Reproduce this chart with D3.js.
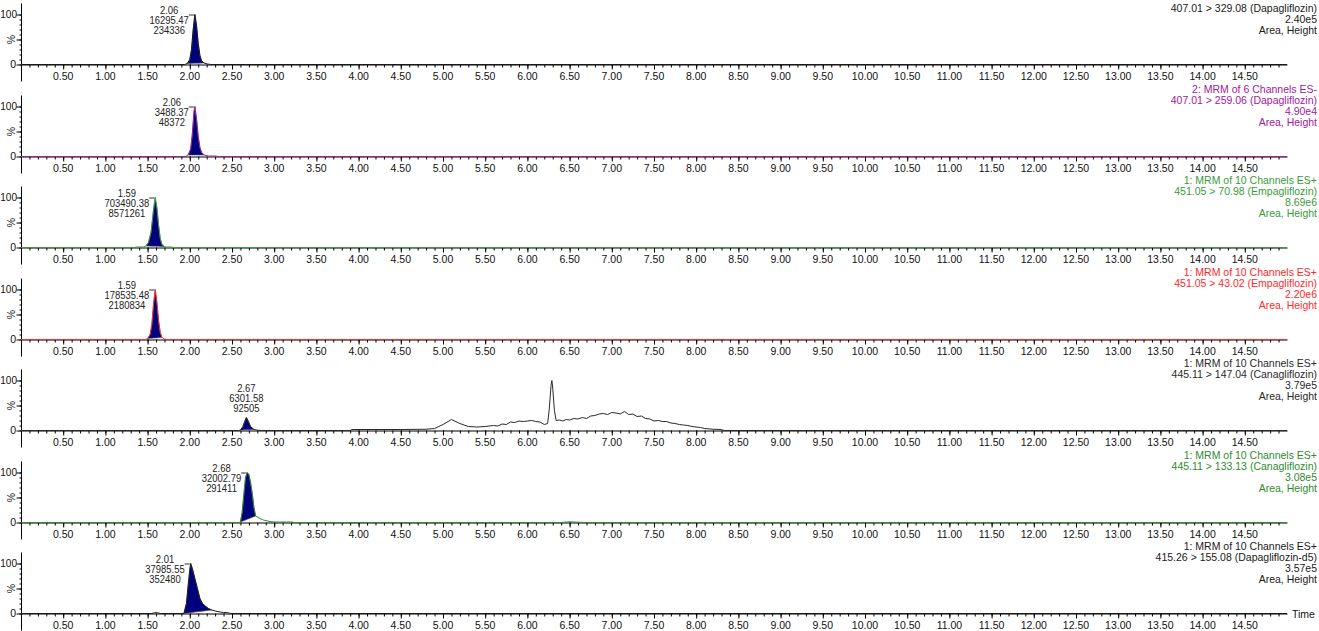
<!DOCTYPE html>
<html><head><meta charset="utf-8">
<script src="https://cdn.jsdelivr.net/npm/d3@7"></script>
<style>
body{margin:0;background:#fff;overflow:hidden}
text{font-family:"Liberation Sans",Arial,sans-serif;}
</style>
</head><body>
<svg id="c" width="1319" height="631"></svg>
<script>
// ---------- DATA ----------
const xTickValues = [0.5,1,1.5,2,2.5,3,3.5,4,4.5,5,5.5,6,6.5,7,7.5,8,8.5,9,9.5,10,10.5,11,11.5,12,12.5,13,13.5,14,14.5];
const xTickLabels = ["0.50","1.00","1.50","2.00","2.50","3.00","3.50","4.00","4.50","5.00","5.50","6.00","6.50","7.00","7.50","8.00","8.50","9.00","9.50","10.00","10.50","11.00","11.50","12.00","12.50","13.00","13.50","14.00","14.50"];
const yTickLabels = ["0","%","100"];

const functionLines = ["","2: MRM of 6 Channels ES-","1: MRM of 10 Channels ES+","1: MRM of 10 Channels ES+","1: MRM of 10 Channels ES+","1: MRM of 10 Channels ES+","1: MRM of 10 Channels ES+"];
const transitions = ["407.01 > 329.08 (Dapagliflozin)","407.01 > 259.06 (Dapagliflozin)","451.05 > 70.98 (Empagliflozin)","451.05 > 43.02 (Empagliflozin)","445.11 > 147.04 (Canagliflozin)","445.11 > 133.13 (Canagliflozin)","415.26 > 155.08 (Dapagliflozin-d5)"];
const fullScale = ["2.40e5","4.90e4","8.69e6","2.20e6","3.79e5","3.08e5","3.57e5"];
const labelMode = "Area, Height";
const traceColors = ["#1a1a1a","#a0209a","#3a9a3a","#ff2a2a","#2a2a2a","#2e8b2e","#1a1a1a"];

const peakRT = ["2.06","2.06","1.59","1.59","2.67","2.68","2.01"];
const peakArea = ["16295.47","3488.37","703490.38","178535.48","6301.58","32002.79","37985.55"];
const peakHeight = ["234336","48372","8571261","2180834","92505","291411","352480"];
const peakTime = [2.06,2.06,1.59,1.59,2.67,2.68,2.01];
const fillStart = [1.97,1.98,1.48,1.50,2.60,2.60,1.93];
const fillEnd = [2.17,2.17,1.70,1.67,2.76,2.78,2.26];

const trace1 = [[0,0],[1.94,0],[1.97,2],[2.00,10],[2.02,30],[2.04,70],[2.06,100],[2.08,78],[2.10,42],[2.12,18],[2.14,7],[2.17,3],[2.21,1],[2.25,0],[15,0]];
const trace2 = [[0,0],[1.95,0],[1.98,3],[2.01,15],[2.03,45],[2.05,90],[2.06,100],[2.08,75],[2.10,40],[2.12,18],[2.14,8],[2.17,3],[2.22,1],[2.30,1],[2.34,0],[15,0]];
const trace3 = [[0,0],[1.35,0],[1.36,1],[1.45,1],[1.48,3],[1.51,10],[1.54,30],[1.57,75],[1.59,100],[1.61,80],[1.63,45],[1.65,18],[1.67,6],[1.70,2],[1.72,1],[1.79,1],[1.80,0],[15,0]];
const trace4 = [[0,0],[1.47,0],[1.50,2],[1.53,10],[1.55,30],[1.57,70],[1.59,100],[1.61,75],[1.63,38],[1.65,14],[1.67,4],[1.70,1],[1.73,0],[15,0]];
const trace5 = [[0,0],[2.58,0],[2.60,1],[2.63,8],[2.65,18],[2.67,26],[2.69,20],[2.72,8],[2.76,2],[2.81,0.5],[2.85,0],[3.90,0],[3.92,2],[4.5,2],[4.8,2.5],[4.9,4],[5.0,12],[5.1,22],[5.2,14],[5.3,8],[5.4,7],[5.5,8],[5.6,10],[5.65,9],[5.7,13],[5.75,12],[5.8,17],[5.85,16],[5.9,19],[5.95,18],[6.0,19],[6.05,20],[6.1,18],[6.15,17],[6.2,12],[6.24,14],[6.26,45],[6.28,90],[6.29,100],[6.30,85],[6.32,40],[6.34,20],[6.38,21],[6.42,19],[6.46,22],[6.5,21],[6.55,24],[6.6,23],[6.65,26],[6.7,24],[6.75,29],[6.8,30],[6.85,33],[6.9,34],[6.95,32],[7.0,36],[7.05,35],[7.1,33],[7.15,38],[7.2,32],[7.25,33],[7.3,28],[7.35,29],[7.4,24],[7.45,23],[7.5,19],[7.55,20],[7.6,18],[7.65,18],[7.7,15],[7.75,14],[7.8,12],[7.85,11],[7.9,10],[7.95,8],[8.0,7],[8.05,6],[8.1,4],[8.2,2.5],[8.3,2],[8.33,0],[15,0]];
const trace6 = [[0,0],[2.58,0],[2.60,1],[2.62,20],[2.64,55],[2.66,90],[2.68,100],[2.70,96],[2.72,80],[2.74,58],[2.76,30],[2.78,13],[2.82,9],[2.87,5],[2.95,2],[3.0,1],[3.2,1],[3.25,0],[6.4,0],[6.5,1.5],[6.6,0.5],[6.7,0],[15,0]];
const trace7 = [[0,0],[1.55,0],[1.58,1.5],[1.62,1.5],[1.65,0],[1.93,0],[1.96,20],[1.98,55],[2.00,88],[2.01,100],[2.03,90],[2.06,70],[2.09,50],[2.12,30],[2.15,20],[2.19,14],[2.22,10],[2.26,7],[2.30,5],[2.36,3],[2.40,2],[2.44,2],[2.47,0.5],[2.50,0],[15,0]];
const traces = [trace1,trace2,trace3,trace4,trace5,trace6,trace7];

// ---------- DRAW ----------
const svg = d3.select("#c");
const x = d3.scaleLinear().domain([0,15]).range([21,1287]);
const S = {tick:1, head:1, peak:0.9};
const FS = 10.5;

function txt(g, str, px, py, anchor, s, color, extra, size){
  return g.append("text")
    .attr("transform", `translate(${px},${py}) scale(${s},1)${extra||""}`)
    .attr("text-anchor", anchor).attr("font-size", size || FS)
    .attr("fill", color).text(str);
}

traces.forEach((tr, i) => {
  const y0 = Math.round(64 + i*91.5) + 0.5;
  const y = d3.scaleLinear().domain([0,100]).range([y0, y0-50]);
  const g = svg.append("g");
  const col = traceColors[i];

  // x axis (minor + major)
  const minor = d3.range(0.1, 15, 0.1);
  g.append("g").attr("transform", `translate(0,${y0})`)
    .call(d3.axisBottom(x).tickValues(minor).tickSize(3).tickFormat("").tickSizeOuter(0))
    .call(a => a.select(".domain").attr("stroke","#000"))
    .call(a => a.selectAll(".tick line").attr("stroke","#000"));
  const maj = g.append("g").attr("transform", `translate(0,${y0})`)
    .call(d3.axisBottom(x).tickValues(xTickValues).tickSize(5).tickFormat("").tickSizeOuter(0));
  maj.select(".domain").remove();
  maj.selectAll(".tick line").attr("stroke","#000");
  xTickValues.forEach((v,k) => txt(g, xTickLabels[k], x(v), y0+15, "middle", S.tick, "#111"));

  // y axis
  const ax = 21.5;
  g.append("line").attr("x1",ax).attr("x2",ax).attr("y1",y0-61).attr("y2",y0+17).attr("stroke","#000");
  g.append("g").attr("transform", `translate(${ax},0)`)
    .call(d3.axisLeft(y).tickValues(d3.range(0,101,10)).tickSize(2).tickFormat("").tickSizeOuter(0))
    .call(a => a.select(".domain").remove());
  g.append("g").attr("transform", `translate(${ax},0)`)
    .call(d3.axisLeft(y).tickValues([0,50,100]).tickSize(5).tickFormat("").tickSizeOuter(0))
    .call(a => a.select(".domain").remove());
  txt(g, yTickLabels[0], 16, y(0)+3.5, "end", S.tick, "#111");
  txt(g, yTickLabels[2], 17, y(100)+3.5, "end", S.tick, "#111", "", 10);
  txt(g, yTickLabels[1], 15, y(50), "middle", 1, "#111", " rotate(-90)");

  // fill under peak between trace and integration baseline
  const seg = tr.filter(d => d[0] >= fillStart[i]-1e-9 && d[0] <= fillEnd[i]+1e-9);
  const bl = d3.scaleLinear().domain([seg[0][0], seg[seg.length-1][0]]).range([seg[0][1], seg[seg.length-1][1]]);
  g.append("path").datum(seg)
    .attr("d", d3.area().x(d=>x(d[0])).y0(d=>y(bl(d[0]))).y1(d=>y(d[1])))
    .attr("fill","#00007c").attr("stroke","#555").attr("stroke-width",0.6);

  // trace
  g.append("path").datum(tr)
    .attr("d", d3.line().x(d=>x(d[0])).y(d=>y(d[1])))
    .attr("fill","none").attr("stroke",col).attr("stroke-width",1);

  // peak annotation
  const px = x(peakTime[i]);
  const pk = tr.reduce((m,d)=> (Math.abs(d[0]-peakTime[i])<0.06 && d[1]>m) ? d[1] : m, 0);
  const apex = y(pk);
  const lines = [peakRT[i], peakArea[i], peakHeight[i]];
  const tall = apex < y0-35;
  const top = Math.max(y0-51, apex-26);
  const tmp = lines.map((s,k)=>txt(g, s, 0, top+k*10, "middle", S.peak, "#222"));
  const w = d3.max(tmp, t => t.node().getComputedTextLength()) * S.peak;
  const cx = tall ? px - 6 - w/2 : px;
  tmp.forEach((t,k)=> t.attr("transform", `translate(${cx},${top+k*10}) scale(${S.peak},1)`));
  if (tall) g.append("line").attr("x1",px-6).attr("x2",px-1).attr("y1",apex+0.5).attr("y2",apex+0.5).attr("stroke","#333");

  // header (first line of the top panel lies above the picture)
  const hx = 1317;
  const hl = [functionLines[i], transitions[i], fullScale[i], labelMode];
  hl.forEach((s,k)=> { if (s) txt(g, s, hx, y0-64+k*11, "end", S.head, col); });

  if (i === traces.length-1) txt(g, "Time", 1292, y0+4, "start", S.head, "#111");
});
</script>
</body></html>
